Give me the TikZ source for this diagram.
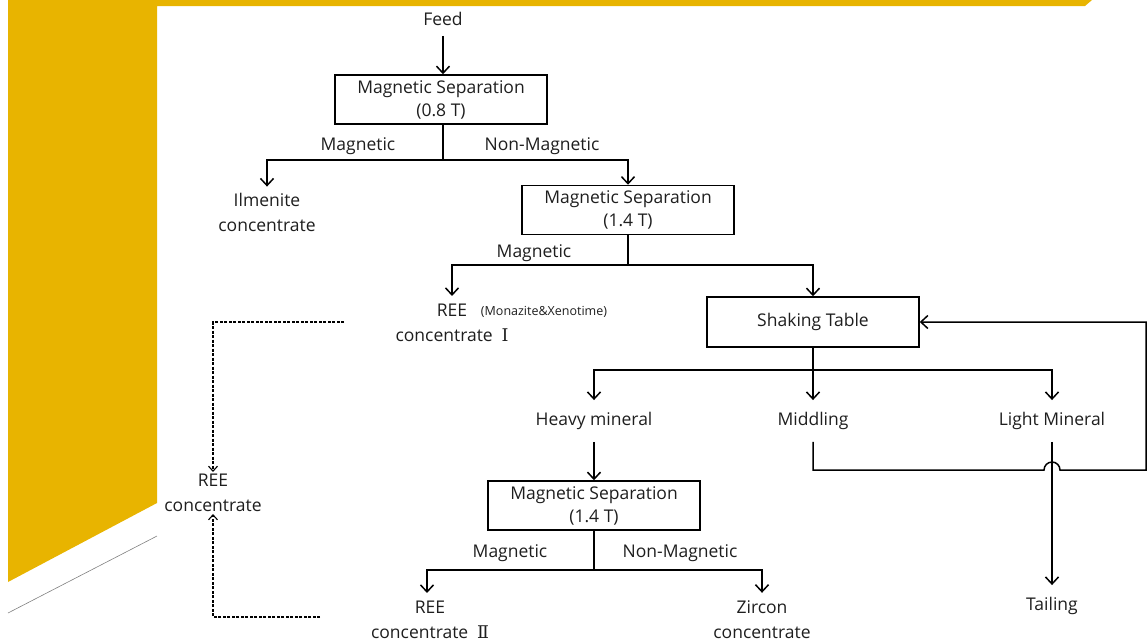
\documentclass[tikz,border=0pt]{standalone}
\usepackage{fontspec}
\setmainfont{Open Sans}
\newfontfamily\numfont{DejaVu Serif}
\usepackage{xcolor}
\usepackage{tikz}
\usetikzlibrary{arrows.meta}
\definecolor{slideyellow}{RGB}{232,180,0}
\definecolor{inkgray}{RGB}{30,30,30}

\begin{document}
\begin{tikzpicture}[x=1pt,y=-1pt,
    every node/.style={font=\fontsize{17.5}{25}\selectfont, text=inkgray, inner sep=2pt},
    txt/.style={align=center},
    small/.style={font=\fontsize{12.5}{14}\selectfont},
    procbox/.style={draw, line width=1.5pt, minimum width=212pt, minimum height=49pt, align=center, inner sep=0pt,
        font=\fontsize{17.5}{23}\selectfont},
    flow/.style={line width=1.5pt},
    arr/.style={flow, -{Straight Barb[length=7pt,width=13pt,line width=1.5pt]}},
    dsh/.style={line width=1.3pt, dash pattern=on 3pt off 1.5pt, -{Straight Barb[length=5pt,width=9pt,line width=1.1pt]}}]
    \useasboundingbox (0,0) rectangle (1148,641);
    % slide background
    \fill[slideyellow] (8,0) -- (1092,0) -- (1085,6) -- (157,6) -- (157,503) -- (8,582) -- cycle;
    \draw[gray, line width=0.6pt] (8,613) -- (157,536);

    % first magnetic separation
    \node[txt] (feed) at (443,19) {Feed};
    \node[procbox] (ms1) at (441,99.5) {Magnetic Separation\\(0.8 T)};
    \node[txt] (ilm) at (267,212) {Ilmenite\\concentrate};
    \node[procbox] (ms2) at (628,210) {Magnetic Separation\\(1.4 T)};
    \node (magA) at (358,146) {Magnetic};
    \node (nonA) at (542,146) {Non-Magnetic};
    \coordinate (s1) at (443,160);
    \draw[arr] ([yshift=-8pt]feed.south) -- (ms1.north -| feed);
    \draw[flow] (ms1.south -| s1) -- (s1);
    \draw[arr] (s1) -| ([yshift=4pt]ilm.north);
    \draw[arr] (s1) -| (ms2.north);

    % second magnetic separation
    \node[txt] (ree1) at (452,323) {REE\\concentrate\enspace{\numfont Ⅰ}};
    \node[small] (monx) at (544,312) {(Monazite\&Xenotime)};
    \node (magB) at (534,253) {Magnetic};
    \node[procbox, minimum height=50pt] (table) at (813,322) {Shaking Table};
    \coordinate (s2) at (628,265);
    \draw[flow] (ms2.south) -- (s2);
    \draw[arr] (s2) -| ([yshift=6pt]ree1.north);
    \draw[arr] (s2) -| (table.north);

    % shaking table
    \node (heavy) at (594,421) {Heavy mineral};
    \node (midd) at (813,421) {Middling};
    \node (light) at (1052,421) {Light Mineral};
    \node (tail) at (1052,606) {Tailing};
    \coordinate (s3) at (813,370);
    \draw[arr] (table.south) -- ([yshift=10pt]midd.north);
    \draw[arr] (s3) -| ([yshift=10pt]heavy.north);
    \draw[arr] (s3) -| ([yshift=10pt]light.north);
    \draw[arr] ([yshift=-10pt]light.south) -- ([yshift=10pt]tail.north);
    % middling back to the table
    \coordinate (hopL) at (1044,470);
    \coordinate (rc) at (1146,470);
    \draw[arr] ([yshift=-10pt]midd.south) |- (hopL) arc (180:360:8) -- (rc) |- (table.east);

    % third magnetic separation
    \node[procbox] (ms3) at (594,505.5) {Magnetic Separation\\(1.4 T)};
    \node[txt] (ree2) at (430,620) {REE\\concentrate\enspace{\numfont Ⅱ}};
    \node[txt] (zrc) at (762,620) {Zircon\\concentrate};
    \node (magC) at (510,553) {Magnetic};
    \node (nonC) at (680,553) {Non-Magnetic};
    \coordinate (s4) at (594,570);
    \draw[arr] ([yshift=-10pt]heavy.south) -- (ms3.north);
    \draw[flow] (ms3.south) -- (s4);
    \draw[arr] (s4) -| ([xshift=-3pt,yshift=6pt]ree2.north);
    \draw[arr] (s4) -| ([yshift=6pt]zrc.north);

    % collected REE concentrate
    \node[txt] (ree) at (213,493) {REE\\concentrate};
    \coordinate (d1) at (344,322);
    \coordinate (d2) at (320,617);
    \draw[dsh] (d1) -| (ree.north);
    \draw[dsh] (d2) -| (ree.south);
\end{tikzpicture}
\end{document}
